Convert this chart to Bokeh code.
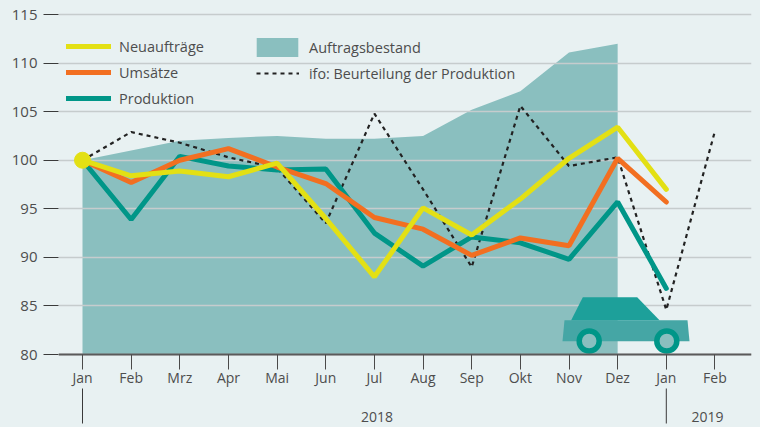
from bokeh.plotting import figure
from bokeh.embed import file_html
from bokeh.resources import INLINE
from bokeh.core.properties import value
from bokeh.models import FixedTicker, Legend, LegendItem

months = ["Jan", "Feb", "Mrz", "Apr", "Mai", "Jun", "Jul", "Aug", "Sep", "Okt", "Nov", "Dez", "Jan", "Feb"]
y_ticks = [80, 85, 90, 95, 100, 105, 110, 115]
auftragsbestand = [100, 101, 102, 102.3, 102.5, 102.2, 102.2, 102.5, 105.2, 107.1, 111.1, 112]
produktion = [100, 93.9, 100.4, 99.4, 99, 99.1, 92.5, 89.1, 92.1, 91.5, 89.8, 95.7, 86.8]
umsaetze = [100, 97.7, 100, 101.2, 99.3, 97.6, 94.1, 92.9, 90.2, 92, 91.2, 100.2, 95.7]
neuauftraege = [100, 98.4, 98.9, 98.3, 99.7, 94, 88, 95.1, 92.3, 96, 100.2, 103.4, 97]
ifo = [100, 102.9, 101.8, 100.3, 99.2, 93.5, 104.8, 97, 89, 105.6, 99.4, 100.3, 84.6, 103]

BG = "#E8F1F2"
FONT = "Open Sans"
TXT = "#4d4d4d"
W, H = 760, 427
LEFT, RIGHT, TOP = 58, 751, 10
X0, DX = 82, 48.65
Y80, DY = 354, 9.714

def to_x(px):
    return (px - X0) / DX

def to_y(py):
    return 80 + (Y80 - py) / DY

p = figure(width=W, height=H, output_backend="svg", toolbar_location=None,
           x_range=(to_x(LEFT), to_x(RIGHT)), y_range=(to_y(H), to_y(TOP)),
           min_border_left=LEFT, min_border_right=W - RIGHT, min_border_top=TOP, min_border_bottom=0,
           background_fill_color=BG, border_fill_color=BG, outline_line_color=None)

# axes
idx = list(range(len(months)))
xa = p.xaxis[0]
xa.ticker = FixedTicker(ticks=idx)
xa.major_label_overrides = {i: m for i, m in enumerate(months)}
xa.fixed_location = 80
xa.axis_line_color = "#5a5a5a"
xa.axis_line_width = 2
xa.major_tick_line_color = "#4a4a4a"
xa.major_tick_line_width = 1
xa.major_tick_in = 0
xa.major_tick_out = 15
xa.major_label_standoff = -2
xa.minor_tick_line_color = None
xa.major_label_text_font = FONT
xa.major_label_text_font_size = "14px"
xa.major_label_text_color = TXT

ya = p.yaxis[0]
ya.ticker = FixedTicker(ticks=y_ticks)
ya.axis_line_color = None
ya.major_tick_line_color = "#3a3a3a"
ya.major_tick_line_width = 1
ya.major_tick_in = 0
ya.major_tick_out = 15
ya.major_label_standoff = 6
ya.minor_tick_line_color = None
ya.major_label_text_font = FONT
ya.major_label_text_font_size = "15px"
ya.major_label_text_color = TXT

p.xgrid.visible = False
p.ygrid.ticker = FixedTicker(ticks=y_ticks)
p.ygrid.grid_line_color = "#c6cccd"
p.ygrid.grid_line_width = 1.5

# series
area = p.varea(x=idx[:len(auftragsbestand)], y1=[80] * len(auftragsbestand), y2=auftragsbestand,
               fill_color="#8ABFBF", level="image")
ifo_r = p.line(idx[:len(ifo)], ifo, line_color="#222222", line_width=2.2, line_dash="4 4")
pro_r = p.line(idx[:len(produktion)], produktion, line_color="#009688", line_width=5, line_cap="round")
ums_r = p.line(idx[:len(umsaetze)], umsaetze, line_color="#F26F21", line_width=5, line_cap="round")
neu_r = p.line(idx[:len(neuauftraege)], neuauftraege, line_color="#E3E014", line_width=5, line_cap="round")
p.scatter([0], [neuauftraege[0]], size=16, color="#E3E014")

# car pictogram
p.patch([to_x(v) for v in (564, 687, 689, 562)], [to_y(v) for v in (319.7, 319.7, 340.7, 340.7)],
        fill_color="#45A6A5", line_color=None)
p.patch([to_x(v) for v in (570.7, 582.3, 636.7, 659)], [to_y(v) for v in (319.7, 296.7, 296.7, 319.7)],
        fill_color="#1DA09A", line_color=None)
p.circle([to_x(588.7), to_x(666.3)], [to_y(340.5)] * 2, radius=10, radius_units="screen",
         fill_color="#8ABFBF", line_color="#009688", line_width=5.5)

# year markers below the axis
p.segment([0, 12], [to_y(388)] * 2, [0, 12], [to_y(423)] * 2, line_color="#3a3a3a", line_width=1)
p.text([to_x(376.5), to_x(707)], [to_y(416)] * 2, text=["2018", "2019"], text_align="center",
       text_baseline="middle", text_font=value(FONT), text_font_size="14px", text_color=TXT)

# legends
def make_legend(items, x, y, w, gh=20, standoff=8, spacing=5, fs="14.5px"):
    lg = Legend(items=[LegendItem(label=value(t), renderers=[r]) for t, r in items],
                location=(x, y), orientation="vertical", background_fill_alpha=0, border_line_color=None,
                padding=0, margin=0, spacing=spacing, glyph_width=w, glyph_height=gh, label_standoff=standoff,
                label_height=20, label_text_font=FONT, label_text_font_size=fs, label_text_color=TXT,
                label_text_baseline="middle")
    p.add_layout(lg, "center")

make_legend([("Neuaufträge", neu_r), ("Umsätze", ums_r), ("Produktion", pro_r)], 8, 319, 45, spacing=6)
make_legend([("Auftragsbestand", area)], 193, 368, 52, gh=24, standoff=6)
make_legend([("ifo: Beurteilung der Produktion", ifo_r)], 198, 344, 43, standoff=10, fs="14.3px")

html = file_html(p, INLINE)
html = html.replace("</head>", f"<style>html,body{{margin:0;padding:0;background:{BG};overflow:hidden}}</style></head>", 1)
open("out.html", "w").write(html)
